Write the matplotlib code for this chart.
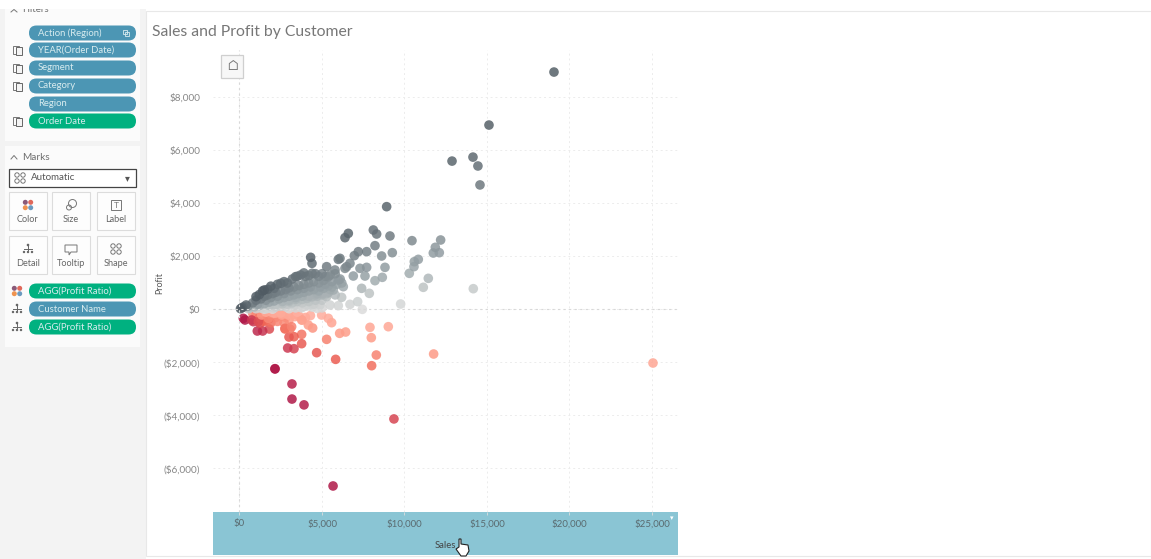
"""
Sales and Profit by Customer, Tableau authoring view.
"""

import matplotlib
import matplotlib.pyplot as plt
from matplotlib.colors import LinearSegmentedColormap, TwoSlopeNorm
from matplotlib.patches import Circle, FancyBboxPatch, Polygon, Rectangle

matplotlib.use("Agg")  # Non-interactive backend

plt.rcParams["font.family"] = ["Lato", "DejaVu Sans"]

# Points above the zero line
sales_pos = [
    19060, 15120, 12880, 14150, 14450, 14575, 8918, 8110, 8312, 9120, 8211, 10453, 12190, 11867,
    11746, 12110, 9261, 8615, 7201, 7706, 6959, 6595, 6393, 4312, 4393, 5989, 6090, 10837, 10595,
    10574, 10292, 11443, 11140, 14170, 7868, 9766, 7443, 7160, 6696, 5989, 8817, 8655, 8211, 7605,
    7706, 7302, 7403, 6898, 6292, 6191, 5282, 6696, 6393, 5787, 5484, 5383, 5989, 5686, 5282, 4878,
    6494,
    1000, 1200, 1400, 1500, 1700, 1900, 2100, 2300,
    2500, 2700, 2900, 3200, 3400, 3500, 3700, 3900, 4000, 4200, 4400, 4600, 4800, 5000,
    500, 800, 1000, 1300, 1500, 1700, 2000, 2200, 2500, 2800, 3000, 3300, 3600, 3900, 4200, 4500,
    4800, 5100,
    600, 900, 1200, 1500, 1800, 2100, 2400, 2700, 3000, 3300, 3600, 3900, 4200, 4500, 4800, 5100,
    5400,
    1000, 1300, 1700, 2100, 2500, 2900, 3200, 3500, 3800, 4100, 4400, 4700, 5000, 5300, 5600,
    1500, 2000, 3000, 3400, 3800, 4200, 4500,
    535, 1646, 3767, 4000, 4400, 4700, 5000, 3300, 2800,
    5200, 5500, 5800, 6100, 5600, 5900, 6200, 4900, 5200, 5500, 4700, 4300, 3900, 3500,
    3100, 2700, 2300, 1900, 1600, 1100, 2600, 3000, 3400, 3800, 4200, 4600, 5000, 5400, 5800,
    2200, 2600, 3000, 3400, 3800, 4200, 4600, 5000, 1800, 2200,
    400, 250, 150, 60,
]
profit_pos = [
    8960, 6960, 5600, 5750, 5415, 4700, 3880, 3000, 2848, 2773, 2408, 2597, 2622, 2345,
    2131, 2144, 2144, 2018, 2182, 2182, 2031, 2873, 2710, 1968, 1741, 1892, 1930, 1892, 1804,
    1616, 1364, 1175, 836, 785, 609, 207, 5, 295, 194, 144, 1590, 1213, 1087, 1263,
    1590, 1553, 798, 1263, 861, 458, 1616, 1741, 1553, 1490, 169, 1238, 1112, 735, 483, 169,
    1616,
    485, 560, 700, 736, 760, 880, 800, 950,
    988, 1050, 1000, 1150, 1239, 1250, 1300, 1380, 1250, 1280, 1365, 1350, 1250, 1350,
    120, 250, 350, 400, 500, 550, 600, 650, 700, 750, 820, 850, 900, 950, 1000, 1050,
    1000, 1100,
    50, 100, 150, 220, 280, 320, 400, 450, 500, 550, 600, 650, 700, 750, 700, 800,
    900,
    30, 50, 40, 60, 120, 200, 250, 300, 380, 420, 480, 500, 550, 600, 850,
    10, 10, 30, 60, 100, 150, 200,
    25, 40, 60, 120, 90, 40, 60, 140, 100,
    1250, 1300, 1350, 1150, 1050, 950, 1000, 850, 950, 750, 600, 850, 800, 750,
    700, 600, 500, 450, 350, 200, 300, 350, 450, 500, 500, 550, 600, 650, 550,
    180, 220, 300, 380, 250, 300, 350, 350, 150, 100,
    170, 100, 70, 30,
]

# Points below the zero line
sales_neg = [
    25060, 9360, 5670, 3910, 3180, 3180, 2150,
    7908, 9019, 7989, 8292, 11766, 8009, 5827, 4676, 5282, 6070, 6434, 4434, 4171, 5585, 5383, 4979,
    3767, 3767, 3302, 3000, 3302, 2919, 2151, 1808, 1404, 1080, 2757, 3060,
    232, 333, 838, 1242,
    800, 1000, 1200, 1400, 1600, 1800, 2000, 2200, 2400, 2600, 2800, 3000, 3200, 3400, 3600, 3800,
    4000, 1500, 1900, 2300, 2700,
    737, 1141, 1343, 1747, 2151, 2555, 2959, 3363, 3767, 2757, 3160, 2000, 1600, 2500, 3500, 4300,
]
profit_neg = [
    -2020, -4130, -6660, -3600, -3380, -2810, -2245,
    -674, -649, -1064, -1718, -1680, -2121, -1882, -1630, -1127, -900, -850, -699, -586, -498, -334, -209,
    -938, -1290, -1026, -1039, -1479, -1454, -2234, -737, -812, -812, -737, -737,
    -334, -397, -460, -523,
    -150, -200, -300, -250, -400, -350, -200, -300, -150, -250, -300, -400, -200, -150, -250, -400,
    -300, -450, -500, -450, -500,
    -396, -459, -207, -333, -144, -207, -207, -270, -396, -710, -650, -120, -100, -130, -100, -230,
]

x_ticks = [0, 5000, 10000, 15000, 20000, 25000]
x_tick_labels = ["$0", "$5,000", "$10,000", "$15,000", "$20,000", "$25,000"]
y_ticks = [-6000, -4000, -2000, 0, 2000, 4000, 6000, 8000]
y_tick_labels = ["($6,000)", "($4,000)", "($2,000)", "$0", "$2,000", "$4,000", "$6,000", "$8,000"]

filter_pills = ["Action (Region)", "YEAR(Order Date)", "Segment", "Category", "Region", "Order Date"]
filter_pill_colors = ["#4c96b4", "#4c96b4", "#4c96b4", "#4c96b4", "#4c96b4", "#00b180"]
mark_pills = ["AGG(Profit Ratio)", "Customer Name", "AGG(Profit Ratio)"]
mark_pill_colors = ["#00b180", "#4c96b4", "#00b180"]
mark_buttons = ["Color", "Size", "Label", "Detail", "Tooltip", "Shape"]

GREY_TEXT = "#6f6f6f"
ICON = "#777777"

ratio_cmap = LinearSegmentedColormap.from_list(
    "profit_ratio",
    [
        (0.00, "#b01848"),
        (0.25, "#cc3a52"),
        (0.35, "#ef6252"),
        (0.43, "#fd9c88"),
        (0.499, "#ffb3a5"),
        (0.50, "#dcdcdc"),
        (0.56, "#c5caca"),
        (0.65, "#9aa5a9"),
        (0.80, "#727d83"),
        (1.00, "#505b63"),
    ],
)

fig = plt.figure(figsize=(11.51, 5.59), dpi=100, facecolor="white")

# Overlay in pixel coordinates for the authoring interface
ui = fig.add_axes([0, 0, 1, 1], zorder=0)
ui.set_xlim(0, 1151)
ui.set_ylim(559, 0)
ui.axis("off")


def pill(y, label, color):
    ui.add_patch(FancyBboxPatch((29, y - 7.5), 107, 15, boxstyle="round,pad=0,rounding_size=7.5",
                                facecolor=color, edgecolor="none"))
    ui.text(38, y, label, fontsize=6.8, color="#d8ecef", va="center", ha="left")


def pill_icon(y):
    ui.add_patch(Rectangle((13, y - 4), 6, 8, fill=False, edgecolor="#777777", linewidth=0.7))
    ui.add_patch(Rectangle((16, y - 3), 6, 8, facecolor="#f4f4f4", edgecolor="#666666", linewidth=0.7))


def color_icon(cx, cy):
    for dx, dy, c in [(-2.7, -2.7, "#8a5a78"), (2.7, -2.7, "#e0685a"), (-2.7, 2.7, "#ee9350"), (2.7, 2.7, "#6b9ac0")]:
        ui.add_patch(Circle((cx + dx, cy + dy), 2.5, facecolor=c, edgecolor="none"))


def tree_icon(cx, cy):
    ui.plot([cx, cx], [cy - 4, cy + 1], color="#666666", linewidth=0.7)
    ui.plot([cx - 4, cx + 4], [cy, cy], color="#666666", linewidth=0.7)
    ui.add_patch(Circle((cx, cy - 4), 1.3, facecolor="#666666", edgecolor="none"))
    for dx in [-4, 0, 4]:
        ui.add_patch(Circle((cx + dx, cy + 3), 1.2, facecolor="#666666", edgecolor="none"))


def shape_icon(cx, cy):
    for dx, dy in [(-3, -3), (3, -3), (-3, 3), (3, 3)]:
        ui.add_patch(Circle((cx + dx, cy + dy), 2.2, fill=False, edgecolor=ICON, linewidth=0.7))


def size_icon(cx, cy):
    ui.add_patch(Circle((cx + 1.5, cy - 1.5), 4, fill=False, edgecolor=ICON, linewidth=0.7))
    ui.add_patch(Circle((cx - 2, cy + 2.5), 2.5, fill=False, edgecolor=ICON, linewidth=0.7))


def label_icon(cx, cy):
    ui.add_patch(Rectangle((cx - 5, cy - 5), 10, 10, fill=False, edgecolor=ICON, linewidth=0.7))
    ui.text(cx, cy, "T", fontsize=6, color=ICON, va="center", ha="center")


def tooltip_icon(cx, cy):
    ui.add_patch(Polygon([(cx - 6, cy - 4), (cx + 6, cy - 4), (cx + 6, cy + 3), (cx, cy + 3),
                          (cx - 2, cy + 6), (cx - 2, cy + 3), (cx - 6, cy + 3)],
                         fill=False, edgecolor=ICON, linewidth=0.7))


# Panels and page background
ui.add_patch(Rectangle((0, 0), 146, 559, facecolor="#f3f3f3", edgecolor="none"))
ui.add_patch(Rectangle((5, 9), 135, 132, facecolor="#fbfbfb", edgecolor="none"))
ui.add_patch(Rectangle((5, 146), 135, 201, facecolor="#fbfbfb", edgecolor="none"))
ui.add_patch(Rectangle((146, 11), 1005, 545, facecolor="white", edgecolor="#e8e8e8", linewidth=0.8))
ui.text(22, 10, "Filters", fontsize=7, color=GREY_TEXT, va="center")
ui.plot([11, 14, 17], [12, 9.5, 12], color=ICON, linewidth=0.7)
ui.add_patch(Rectangle((0, 0), 146, 9, facecolor="white", edgecolor="none", zorder=3))

filter_y = [33, 50, 68, 86, 104, 121]
for y, label, color in zip(filter_y, filter_pills, filter_pill_colors):
    pill(y, label, color)
for y in [50, 68, 86, 121]:
    pill_icon(y)
# Small linked-filter mark on the first pill
ui.add_patch(Rectangle((123, 30), 4, 4, fill=False, edgecolor="#d8ecef", linewidth=0.6))
ui.add_patch(Rectangle((125, 32), 4, 4, fill=False, edgecolor="#d8ecef", linewidth=0.6))

ui.plot([11, 14, 17], [159, 155.5, 159], color=ICON, linewidth=0.7)
ui.text(22, 157, "Marks", fontsize=7.2, color=GREY_TEXT, va="center")
ui.add_patch(Rectangle((9, 169), 127, 18, facecolor="white", edgecolor="#444444", linewidth=0.9))
ui.text(31, 178, "Automatic", fontsize=7, color="#555555", va="center")
shape_icon(20, 178)
ui.text(127, 178.5, "▾", fontsize=7, color="#555555", va="center", ha="center")

button_x = [9, 52, 97]
button_y = [192, 236]
button_icons = [color_icon, size_icon, label_icon, tree_icon, tooltip_icon, shape_icon]
for i, label in enumerate(mark_buttons):
    bx = button_x[i % 3]
    by = button_y[i // 3]
    ui.add_patch(Rectangle((bx, by), 38.5, 38, facecolor="#fdfdfd", edgecolor="#dcdcdc", linewidth=0.8))
    button_icons[i](bx + 19, by + 13)
    ui.text(bx + 19, by + 28, label, fontsize=6.6, color="#666666", va="center", ha="center")

mark_y = [291, 309, 327]
for y, label, color in zip(mark_y, mark_pills, mark_pill_colors):
    pill(y, label, color)
color_icon(17, 291)
tree_icon(17, 309)
tree_icon(17, 327)

# Chart furniture
ui.text(152, 32, "Sales and Profit by Customer", fontsize=11.35, color="#777777", va="center")
ui.add_patch(Rectangle((213, 512), 465, 43, facecolor="#8ac5d4", edgecolor="none"))
ui.text(160, 283, "Profit", fontsize=6.4, color="#555555", rotation=90, va="center", ha="center")
ui.text(445, 545, "Sales", fontsize=6.8, color="#444444", va="center", ha="center")
ui.text(672, 518, "▾", fontsize=5, color="white", va="center", ha="center")

# Scatter, scales set so that $0/$0 land where the reference has them
ax = fig.add_axes([213 / 1151, (559 - 512) / 559, 465 / 1151, 462 / 559], zorder=1)
ax.patch.set_alpha(0)
ax.set_xlim(-1606, 26576)
ax.set_ylim(-7642, 9792)
for spine in ax.spines.values():
    spine.set_visible(False)

ax.grid(True, linestyle=(0, (2, 3)), linewidth=0.7, color="#ececec")
ax.axvline(0, linestyle=(0, (2, 3)), linewidth=0.8, color="#d8d8d8")
ax.axhline(0, linestyle=(0, (2, 3)), linewidth=0.8, color="#d8d8d8")
ax.set_axisbelow(True)

ax.set_xticks(x_ticks, x_tick_labels)
ax.set_yticks(y_ticks, y_tick_labels)
ax.tick_params(axis="x", length=2, width=0.6, color="#dddddd", labelsize=7, labelcolor="#5a6b70", pad=3)
ax.tick_params(axis="y", length=0, labelsize=7.2, labelcolor="#888888", pad=9)

# Larger positives drawn last so the dark upper edge stays on top
pos_order = sorted(range(len(sales_pos)), key=lambda i: profit_pos[i] / sales_pos[i])
sales = sales_neg + [sales_pos[i] for i in pos_order]
profit = profit_neg + [profit_pos[i] for i in pos_order]
ratio = [p / s for p, s in zip(profit, sales)]
ax.scatter(sales, profit, c=ratio, cmap=ratio_cmap, norm=TwoSlopeNorm(vmin=-1.0, vcenter=0, vmax=0.5),
           s=48, alpha=0.85, linewidths=0, clip_on=False)

# Home button and mouse pointer on top of the chart
top = fig.add_axes([0, 0, 1, 1], zorder=2)
top.set_xlim(0, 1151)
top.set_ylim(559, 0)
top.axis("off")
top.patch.set_alpha(0)
top.add_patch(Rectangle((221, 55), 22, 23, facecolor="#f7f7f7", edgecolor="#cfcfcf", linewidth=0.9))
top.text(232, 66, "⌂", fontsize=10, color="#777777", va="center", ha="center")
hand = [(459, 539), (461, 539), (461, 544), (468, 545), (469, 551), (466, 556), (461, 556), (456, 549), (459, 547)]
top.add_patch(Polygon(hand, facecolor="white", edgecolor="#222222", linewidth=0.8))

fig.savefig("out.png", dpi=100)
plt.close(fig)
